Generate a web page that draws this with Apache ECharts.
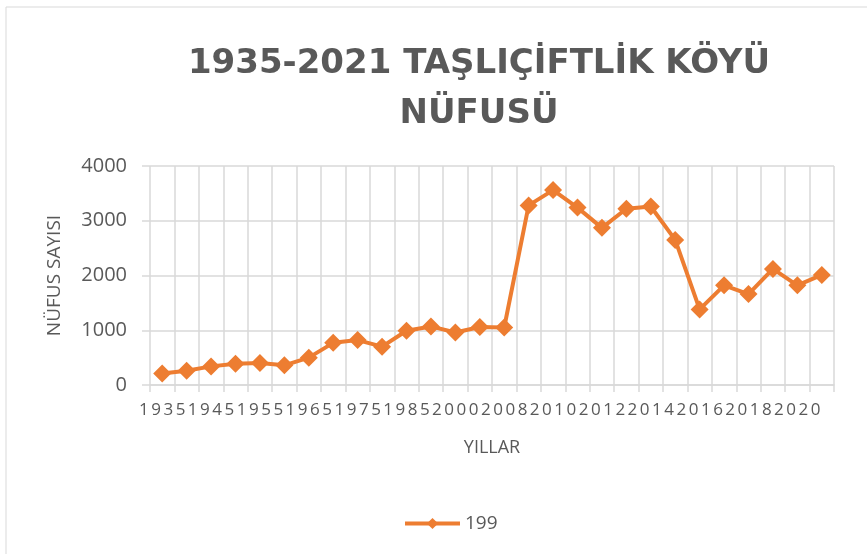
<!DOCTYPE html>
<html>
<head>
<meta charset="utf-8">
<script src="https://cdn.jsdelivr.net/npm/echarts@6/dist/echarts.min.js"></script>
<style>
  html, body { margin: 0; padding: 0; background: #fff; }
  #chart { width: 867px; height: 554px; }
</style>
</head>
<body>
<div id="chart"></div>
<script>
// census years (every other one gets a label, like the original)
const years = [
  "1935", "1940", "1945", "1950", "1955", "1960", "1965", "1970", "1975", "1980",
  "1985", "1990", "2000", "2007", "2008", "2009", "2010", "2011", "2012", "2013",
  "2014", "2015", "2016", "2017", "2018", "2019", "2020", "2021"
];
const population = [
  210, 260, 340, 390, 400, 360, 500, 770, 820, 700,
  990, 1070, 960, 1060, 1050, 3280, 3560, 3240, 2870, 3220,
  3260, 2650, 1380, 1820, 1660, 2120, 1820, 2010
];
const yTicks = { min: 0, max: 4000, step: 1000 };

const gray = "#595959";
const gridColor = "#d9d9d9";
const orange = "#ED7D31";

const chart = echarts.init(document.getElementById("chart"));

const option = {
  backgroundColor: "#fff",
  graphic: [
    {
      type: "rect",
      shape: { x: 6, y: 7, width: 900, height: 600 },
      style: { fill: "none", stroke: gridColor, lineWidth: 1 },
      silent: true,
    },
  ],
  title: {
    text: "1935-2021 TAŞLIÇİFTLİK KÖYÜ\nNÜFUSÜ",
    left: 474,
    top: 34,
    textAlign: "center",
    textStyle: {
      fontFamily: "DejaVu Sans",
      fontWeight: "bold",
      fontSize: 34,
      lineHeight: 50,
      color: gray,
    },
  },
  legend: {
    data: ["199"],
    left: 398,
    top: 509,
    itemWidth: 55,
    itemHeight: 14,
    itemGap: 5,
    lineStyle: { width: 4 },
    textStyle: { fontFamily: "Open Sans", fontSize: 19, color: gray },
  },
  grid: { left: 150, right: 33, top: 166, bottom: 169 },
  xAxis: {
    type: "category",
    data: years,
    boundaryGap: true,
    name: "YILLAR",
    nameLocation: "middle",
    nameGap: 54,
    nameTextStyle: { fontFamily: "Open Sans", fontSize: 18, lineHeight: 18, color: gray, verticalAlign: "top" },
    axisLine: { lineStyle: { color: gridColor, width: 1.5 } },
    axisTick: { show: true, interval: 0, length: 7, lineStyle: { color: gridColor, width: 1.5 } },
    splitLine: { show: true, interval: 0, lineStyle: { color: gridColor, width: 1.5 } },
    axisLabel: {
      interval: 1,
      margin: 17,
      fontFamily: "Open Sans",
      fontSize: 17,
      color: gray,
      formatter: function (v) {
        return v.split("").map(function (c) { return "{d|" + c + "}"; }).join("");
      },
      rich: {
        d: { width: 12.25, align: "center", fontFamily: "Open Sans", fontSize: 17, color: gray },
      },
    },
  },
  yAxis: {
    type: "value",
    min: yTicks.min,
    max: yTicks.max,
    interval: yTicks.step,
    name: "NÜFUS SAYISI",
    nameLocation: "middle",
    nameGap: 86,
    nameTextStyle: { fontFamily: "Open Sans", fontSize: 19, color: gray },
    axisLine: { show: false },
    axisTick: { show: true, length: 8, lineStyle: { color: gridColor, width: 1.5 } },
    splitLine: { lineStyle: { color: gridColor, width: 1.5 } },
    axisLabel: {
      margin: 23,
      fontFamily: "Open Sans",
      fontSize: 20,
      color: gray,
      formatter: function (v) { return String(v); },
    },
  },
  series: [
    {
      name: "199",
      type: "line",
      data: population,
      color: orange,
      symbol: "diamond",
      symbolSize: 18,
      showAllSymbol: true,
      lineStyle: { width: 4, color: orange },
      itemStyle: { color: orange },
    },
  ],
};

chart.setOption(option);
</script>
</body>
</html>
